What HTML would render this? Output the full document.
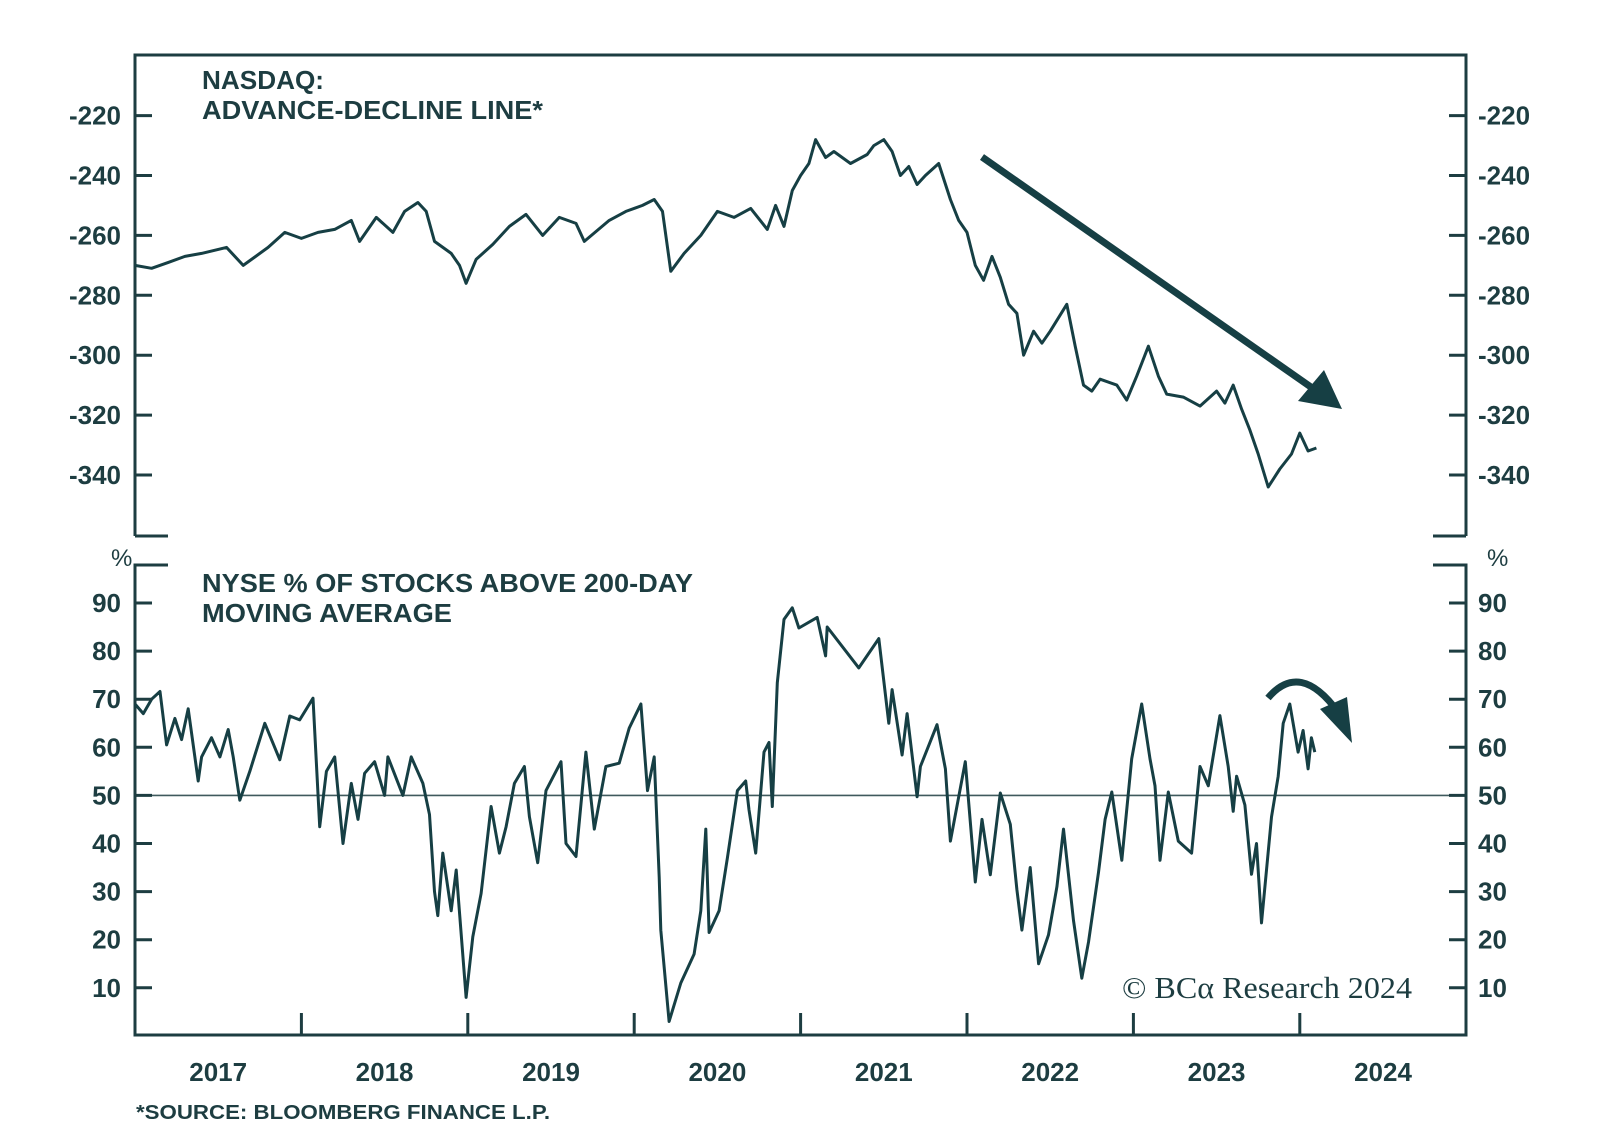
<!DOCTYPE html>
<html><head><meta charset="utf-8">
<style>
html,body{margin:0;padding:0;background:#fff;}
svg{display:block;font-family:"Liberation Sans",sans-serif;}
.tk{font-size:26px;font-weight:bold;fill:#1d3d41;}
.tt{font-size:26px;font-weight:bold;fill:#1d3d41;}
</style></head>
<body>
<svg id="chart" width="1600" height="1140" viewBox="0 0 1600 1140" xmlns="http://www.w3.org/2000/svg">
<g id="frame" stroke="#1d3d41" stroke-width="3" fill="none">
  <path d="M135,536 L135,55 L1466,55 L1466,536"/>
  <path d="M135,536 L168,536"/>
  <path d="M1433,536 L1466,536"/>
  <path d="M168,565 L135,565 L135,1035 L1466,1035 L1466,565 L1433,565"/>
</g>
<text class="tt" x="202" y="89" textLength="122" lengthAdjust="spacingAndGlyphs">NASDAQ:</text>
<text class="tt" x="202" y="119" textLength="341" lengthAdjust="spacingAndGlyphs">ADVANCE-DECLINE LINE*</text>
<text class="tt" x="202" y="592" textLength="491" lengthAdjust="spacingAndGlyphs">NYSE % OF STOCKS ABOVE 200-DAY</text>
<text class="tt" x="202" y="622" textLength="250" lengthAdjust="spacingAndGlyphs">MOVING AVERAGE</text>
<text x="111" y="566" font-size="24" fill="#1d3d41">%</text>
<text x="1487" y="566" font-size="24" fill="#1d3d41">%</text>
<text x="136" y="1119" font-size="20" font-weight="bold" fill="#1d3d41" textLength="414" lengthAdjust="spacingAndGlyphs">*SOURCE: BLOOMBERG FINANCE L.P.</text>
<text x="1122" y="998" font-family="Liberation Serif, serif" font-size="31" fill="#1d3d41" textLength="290" lengthAdjust="spacingAndGlyphs">© BCα Research 2024</text>
<line x1="135" x2="1466" y1="795.4" y2="795.4" stroke="#3f5a5d" stroke-width="1.6"/>
<g id="marks"></g>
<g>
  <line x1="982" y1="157" x2="1318" y2="392" stroke="#163f44" stroke-width="7"/>
  <polygon points="1342,409 1298,401 1324,370" fill="#163f44"/>
</g>
<g>
  <path d="M1268,698 Q1300,660 1338,712" stroke="#163f44" stroke-width="7" fill="none"/>
  <polygon points="1352,743 1320,709 1347,697" fill="#163f44"/>
</g>
</svg>
<script>
const upperT=[2017.0,2017.1,2017.2,2017.3,2017.4,2017.55,2017.65,2017.8,2017.9,2018.0,2018.1,2018.2,2018.3,2018.35,2018.45,2018.55,2018.62,2018.7,2018.75,2018.8,2018.9,2018.95,2018.99,2019.05,2019.15,2019.25,2019.35,2019.45,2019.55,2019.65,2019.7,2019.85,2019.95,2020.05,2020.12,2020.17,2020.22,2020.3,2020.4,2020.5,2020.6,2020.7,2020.8,2020.85,2020.9,2020.95,2021.0,2021.05,2021.09,2021.15,2021.2,2021.3,2021.4,2021.44,2021.5,2021.55,2021.6,2021.65,2021.7,2021.75,2021.83,2021.9,2021.95,2022.0,2022.05,2022.1,2022.15,2022.2,2022.25,2022.3,2022.34,2022.4,2022.45,2022.5,2022.6,2022.65,2022.7,2022.75,2022.8,2022.9,2022.96,2023.02,2023.09,2023.15,2023.2,2023.3,2023.4,2023.5,2023.55,2023.6,2023.65,2023.7,2023.75,2023.81,2023.88,2023.95,2024.0,2024.05,2024.1];
const upperV=[-270,-271,-269,-267,-266,-264,-270,-264,-259,-261,-259,-258,-255,-262,-254,-259,-252,-249,-252,-262,-266,-270,-276,-268,-263,-257,-253,-260,-254,-256,-262,-255,-252,-250,-248,-252,-272,-266,-260,-252,-254,-251,-258,-250,-257,-245,-240,-236,-228,-234,-232,-236,-233,-230,-228,-232,-240,-237,-243,-240,-236,-248,-255,-259,-270,-275,-267,-274,-283,-286,-300,-292,-296,-292,-283,-297,-310,-312,-308,-310,-315,-307,-297,-307,-313,-314,-317,-312,-316,-310,-318,-325,-333,-344,-338,-333,-326,-332,-331];
const lowerT=[2017.0,2017.05,2017.1,2017.15,2017.19,2017.24,2017.28,2017.32,2017.38,2017.4,2017.46,2017.51,2017.56,2017.59,2017.63,2017.69,2017.78,2017.87,2017.93,2017.99,2018.07,2018.11,2018.15,2018.2,2018.25,2018.3,2018.34,2018.38,2018.44,2018.5,2018.52,2018.61,2018.66,2018.73,2018.77,2018.8,2018.82,2018.85,2018.9,2018.93,2018.99,2019.03,2019.08,2019.14,2019.19,2019.23,2019.28,2019.34,2019.37,2019.42,2019.47,2019.56,2019.59,2019.65,2019.71,2019.76,2019.83,2019.91,2019.97,2020.04,2020.08,2020.12,2020.15,2020.16,2020.21,2020.28,2020.36,2020.4,2020.43,2020.45,2020.51,2020.56,2020.62,2020.67,2020.69,2020.73,2020.78,2020.81,2020.83,2020.86,2020.9,2020.95,2020.99,2021.1,2021.15,2021.16,2021.35,2021.47,2021.53,2021.55,2021.61,2021.64,2021.7,2021.72,2021.82,2021.87,2021.9,2021.99,2022.05,2022.09,2022.14,2022.2,2022.26,2022.3,2022.33,2022.38,2022.43,2022.49,2022.54,2022.58,2022.64,2022.69,2022.73,2022.79,2022.83,2022.87,2022.93,2022.99,2023.05,2023.1,2023.13,2023.16,2023.21,2023.27,2023.35,2023.4,2023.45,2023.52,2023.57,2023.6,2023.62,2023.67,2023.71,2023.74,2023.77,2023.8,2023.83,2023.87,2023.9,2023.94,2023.99,2024.02,2024.05,2024.07,2024.09];
const lowerV=[69,67,70,71.6,60.5,66,61.6,68,53,58,62,58,63.7,58,49,55,65,57.4,66.5,65.7,70.2,43.5,55,58,40,52.5,45,54.6,57,50,58,50,58,52.5,46,30,25,38,26,34.5,8,20.6,29.6,47.7,38,43.5,52.5,56,45.6,36,51,57,40,37.3,59,43,56,56.7,64,69,51,58,33,22,3,11,17,26,43,21.5,26,37,51,53,47,38,59,61,47.7,73.4,86.6,89,84.8,87,79,85,76.5,82.6,65,72,58.4,67,49.7,56,64.7,55.5,40.5,57,32,45,33.5,50.5,44,30.4,22,35,15,21,31,43,24,12,19.5,34,45,50.7,36.5,57.6,69,57.6,52,36.5,50.7,40.5,38,56,52,66.6,56,46.7,54,48,33.6,40,23.5,34.5,45.5,54,65,69,59,63.5,55.5,62,59];
const upperTicks=[-220,-240,-260,-280,-300,-320,-340];
const lowerTicks=[90,80,70,60,50,40,30,20,10];
const years=[2017,2018,2019,2020,2021,2022,2023,2024];

const NS='http://www.w3.org/2000/svg';
function xS(t){return 135+(t-2017)*166.4;}
function yU(v){return 115.6+(-220-v)*2.995;}
function yL(v){return 795.4-(v-50)*4.81;}
const marks=document.getElementById('marks');
function mk(tag,attrs){const e=document.createElementNS(NS,tag);for(const k in attrs)e.setAttribute(k,attrs[k]);marks.appendChild(e);return e;}

let d='';
upperT.forEach((t,i)=>{d+=(i?'L':'M')+xS(t).toFixed(1)+','+yU(upperV[i]).toFixed(1);});
const p1=mk('path',{d:d,fill:'none',stroke:'#163f44','stroke-width':3,'stroke-linejoin':'round'});


d='';
lowerT.forEach((t,i)=>{d+=(i?'L':'M')+xS(t).toFixed(1)+','+yL(lowerV[i]).toFixed(1);});
const p2=mk('path',{d:d,fill:'none',stroke:'#163f44','stroke-width':3,'stroke-linejoin':'round'});



upperTicks.forEach(v=>{
  const y=yU(v);
  const a=mk('line',{x1:135,x2:152,y1:y,y2:y,stroke:'#1d3d41','stroke-width':3});
  
  
  const b=mk('line',{x1:1449,x2:1466,y1:y,y2:y,stroke:'#1d3d41','stroke-width':3});
  
  
  const l=mk('text',{x:121,y:y+9,'text-anchor':'end','class':'tk'});l.textContent=v;
  
  
  const r=mk('text',{x:1478,y:y+9,'class':'tk'});r.textContent=v;
  
  
});
lowerTicks.forEach(v=>{
  const y=yL(v);
  const a=mk('line',{x1:135,x2:152,y1:y,y2:y,stroke:'#1d3d41','stroke-width':3});
  
  
  const b=mk('line',{x1:1449,x2:1466,y1:y,y2:y,stroke:'#1d3d41','stroke-width':3});
  
  
  const l=mk('text',{x:121,y:y+9,'text-anchor':'end','class':'tk'});l.textContent=v;
  
  
  const r=mk('text',{x:1478,y:y+9,'class':'tk'});r.textContent=v;
  
  
});
years.forEach((yr,i)=>{
  if(i>0){
    const t=mk('line',{x1:xS(yr),x2:xS(yr),y1:1035,y2:1013,stroke:'#1d3d41','stroke-width':3});
    
    
  }
  const l=mk('text',{x:xS(yr+0.5),y:1081,'text-anchor':'middle','class':'tk'});l.textContent=yr;
  
  
});
</script>
</body></html>
